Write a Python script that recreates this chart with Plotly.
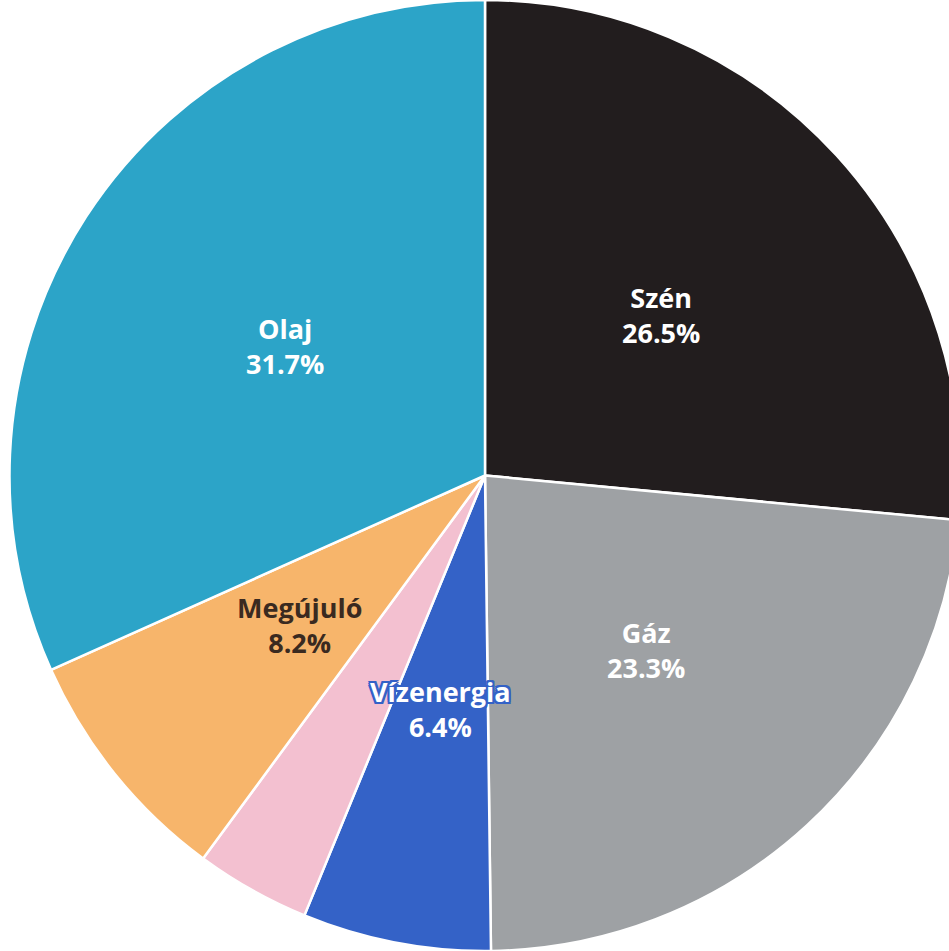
import math
import plotly.graph_objects as go

labels = ["Szén", "Gáz", "Vízenergia", "Atomenergia", "Megújuló", "Olaj"]
values = [26.5, 23.3, 6.4, 3.9, 8.2, 31.7]
colors = ["#221d1e", "#9ea1a4", "#3462c7", "#f3c0d0", "#f7b56b", "#2ca4c8"]
show_label = [True, True, True, False, True, True]
text_colors = ["#ffffff", "#ffffff", "#ffffff", "#ffffff", "#3a2a20", "#ffffff"]
outline = [None, None, "#3462c7", None, None, None]

W, H = 970, 951

fig = go.Figure(go.Pie(
    labels=labels,
    values=values,
    sort=False,
    direction="clockwise",
    rotation=0,
    marker=dict(colors=colors, line=dict(color="#ffffff", width=2.5)),
    textinfo="none",
    hoverinfo="label+percent",
    showlegend=False,
    domain=dict(x=[0, 1], y=[0, 1]),
))

# Labels placed at half radius along each slice's mid-angle (computed from values)
total = sum(values)
R = min(W, H) / 2
cum = 0.0
annotations = []
for lab, v, show, tc, oc in zip(labels, values, show_label, text_colors, outline):
    mid = (cum + v / 2) / total * 2 * math.pi
    cum += v
    if not show:
        continue
    x = 0.5 + 0.5 * R * math.sin(mid) / W
    y = 0.5 + 0.5 * R * math.cos(mid) / H
    font = dict(family="Open Sans", size=27, color=tc, weight="bold")
    if oc:
        s = 2
        font["shadow"] = ", ".join(
            f"{dx}px {dy}px 0 {oc}" for dx in (-s, 0, s) for dy in (-s, 0, s) if (dx, dy) != (0, 0)
        )
    pct = f"{v / total * 100:.1f}%"
    annotations.append(dict(
        x=x, y=y, xref="paper", yref="paper", text=f"{lab}<br>{pct}", showarrow=False,
        xanchor="center", yanchor="middle", align="center", font=font,
    ))

fig.update_layout(
    width=W, height=H,
    margin=dict(l=0, r=0, t=0, b=0),
    paper_bgcolor="#ffffff",
    annotations=annotations,
)

fig.write_html(
    "out.html",
    config={"displayModeBar": False},
    post_script="document.body.style.margin='0px';document.body.style.overflow='hidden';",
)
